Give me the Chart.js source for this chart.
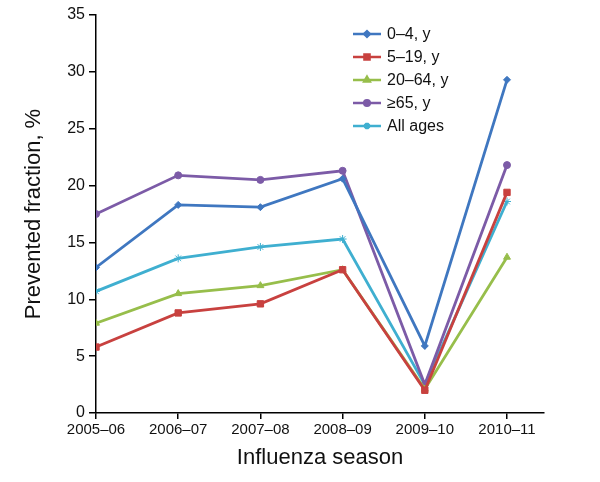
<!DOCTYPE html>
<html>
<head>
<meta charset="utf-8">
<script src="https://cdn.jsdelivr.net/npm/chart.js@4/dist/chart.umd.min.js"></script>
<style>
  html, body { margin: 0; padding: 0; background: #fff; }
  canvas { display: block; }
</style>
</head>
<body>
<canvas id="chart" width="600" height="482"></canvas>
<script>
    const seasons = ['2005–06', '2006–07', '2007–08', '2008–09', '2009–10', '2010–11'];

    const age0to4 = [12.8, 18.3, 18.1, 20.6, 5.9, 29.3];
    const age5to19 = [5.8, 8.8, 9.6, 12.6, 2.0, 19.4];
    const age20to64 = [7.9, 10.5, 11.2, 12.6, 2.1, 13.7];
    const age65plus = [17.5, 20.9, 20.5, 21.3, 2.5, 21.8];
    const allAges = [10.7, 13.6, 14.6, 15.3, 2.5, 18.6];

    const yTicks = [0, 5, 10, 15, 20, 25, 30, 35];

    const FONT = '"Liberation Sans", Arial, sans-serif';

    function toPoints(values) {
        return values.map((v, i) => ({ x: i, y: v }));
    }

    const series = [
        { label: '0–4, y', data: age0to4, color: '#3F77C0', style: 'rectRot', radius: 3.5 },
        { label: '5–19, y', data: age5to19, color: '#C8413F', style: 'rect', radius: 4.5 },
        { label: '20–64, y', data: age20to64, color: '#97BE4B', style: 'triangle', radius: 4 },
        { label: '≥65, y', data: age65plus, color: '#7C5BA7', style: 'circle', radius: 3.5 },
        { label: 'All ages', data: allAges, color: '#3FAFD0', style: 'star', radius: 4 },
    ];

    // legend drawn inside the plot area, line + marker like the original
    const insideLegend = {
        id: 'insideLegend',
        afterDatasetsDraw(chart) {
            const { ctx, chartArea } = chart;
            const x0 = chartArea.left + 257;
            const y0 = chartArea.top + 19;
            ctx.save();
            series.forEach((s, i) => {
                const y = y0 + i * 23;
                ctx.strokeStyle = s.color;
                ctx.fillStyle = s.color;
                ctx.lineWidth = 2.5;
                ctx.beginPath();
                ctx.moveTo(x0, y);
                ctx.lineTo(x0 + 28, y);
                ctx.stroke();
                Chart.helpers.drawPoint(ctx, {
                    pointStyle: s.style,
                    radius: s.radius * 0.8,
                    rotation: 0,
                    borderWidth: 1,
                }, x0 + 14, y);
                ctx.fillStyle = '#111';
                ctx.font = '16px ' + FONT;
                ctx.textAlign = 'left';
                ctx.textBaseline = 'middle';
                ctx.fillText(s.label, x0 + 34, y + 1);
            });
            ctx.restore();
        },
    };

    new Chart(document.getElementById('chart'), {
        type: 'line',
        data: {
            datasets: series.map((s) => ({
                label: s.label,
                data: toPoints(s.data),
                borderColor: s.color,
                backgroundColor: s.color,
                pointBackgroundColor: s.color,
                pointBorderColor: s.color,
                pointStyle: s.style,
                pointRadius: s.radius,
                pointBorderWidth: 1,
                borderWidth: 2.8,
                tension: 0,
                fill: false,
            })),
        },
        options: {
            responsive: false,
            animation: false,
            layout: {
                padding: { top: 15, right: 56, left: 0, bottom: 0 },
            },
            plugins: {
                legend: { display: false },
                tooltip: { enabled: false },
            },
            scales: {
                x: {
                    type: 'linear',
                    min: 0,
                    max: 5.45,
                    afterBuildTicks(scale) {
                        scale.ticks = seasons.map((s, i) => ({ value: i }));
                    },
                    afterFit(scale) {
                        scale.height = 69;
                    },
                    border: { color: '#000', width: 1.5 },
                    grid: {
                        drawOnChartArea: false,
                        drawTicks: true,
                        tickLength: 6,
                        color: '#000',
                        lineWidth: 1.5,
                    },
                    ticks: {
                        color: '#111',
                        padding: 2,
                        maxRotation: 0,
                        autoSkip: false,
                        font: { family: FONT, size: 15 },
                        callback(value) {
                            return seasons[value];
                        },
                    },
                    title: {
                        display: true,
                        text: 'Influenza season',
                        color: '#111',
                        font: { family: FONT, size: 22 },
                        padding: { top: 0, bottom: 11 },
                    },
                },
                y: {
                    min: 0,
                    max: 35,
                    afterBuildTicks(scale) {
                        scale.ticks = yTicks.map((v) => ({ value: v }));
                    },
                    afterFit(scale) {
                        scale.width = 96;
                    },
                    border: { color: '#000', width: 1.5 },
                    grid: {
                        drawOnChartArea: false,
                        drawTicks: true,
                        tickLength: 7,
                        color: '#000',
                        lineWidth: 1.5,
                    },
                    ticks: {
                        color: '#111',
                        padding: 4,
                        font: { family: FONT, size: 16 },
                    },
                    title: {
                        display: true,
                        text: 'Prevented fraction, %',
                        color: '#111',
                        font: { family: FONT, size: 22 },
                        padding: { top: 21, bottom: 0 },
                    },
                },
            },
        },
        plugins: [insideLegend],
    });
</script>
</body>
</html>
